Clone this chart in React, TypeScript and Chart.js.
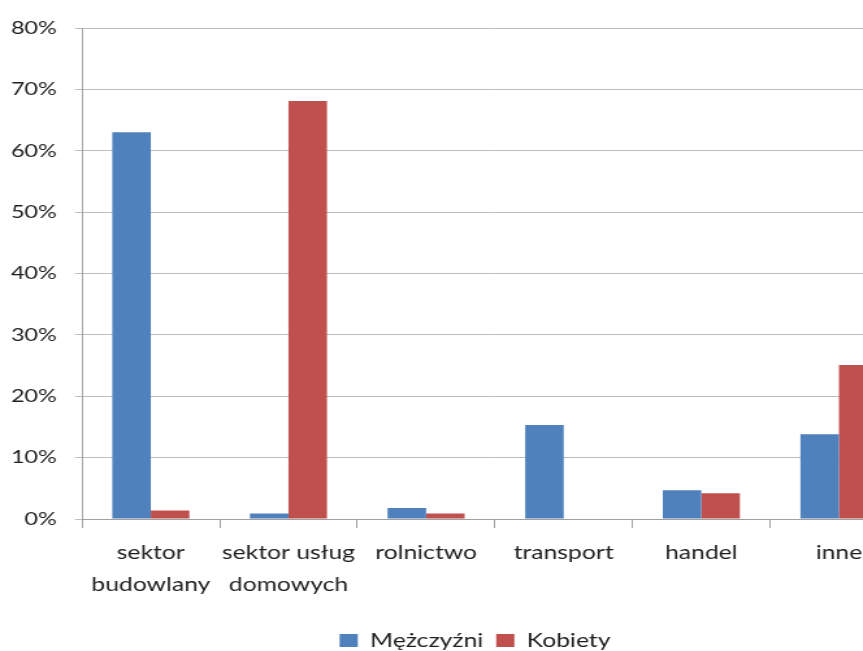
import React, { useEffect, useRef } from 'react';
import { Chart, registerables } from 'chart.js';

Chart.register(...registerables);

const categories: (string | string[])[] = [
  ['sektor', 'budowlany'],
  ['sektor usług', 'domowych'],
  'rolnictwo',
  'transport',
  'handel',
  'inne',
];
const seriesNames = ['Mężczyźni', 'Kobiety'];
const menValues = [63.0, 0.9, 1.8, 15.3, 4.7, 13.8];
const womenValues = [1.4, 68.1, 0.9, 0, 4.2, 25.1];
const yMin = 0;
const yMax = 80;
const yStep = 10;

const STRETCH = 1.3;
const CW = 731;
const CH = 660;

export default function App() {
  const ref = useRef<HTMLCanvasElement>(null);

  useEffect(() => {
    if (!ref.current) return;
    const textColor = '#1e1e1e';
    const chart = new Chart(ref.current, {
      type: 'bar',
      data: {
        labels: categories,
        datasets: [
          {
            label: seriesNames[0],
            data: menValues,
            backgroundColor: '#4F81BD',
            categoryPercentage: 0.56,
            barPercentage: 1,
          },
          {
            label: seriesNames[1],
            data: womenValues,
            backgroundColor: '#C0504D',
            categoryPercentage: 0.56,
            barPercentage: 1,
          },
        ],
      },
      options: {
        responsive: false,
        animation: false,
        devicePixelRatio: 1,
        layout: { padding: { left: 0, right: 0, top: 28, bottom: 0 } },
        plugins: {
          tooltip: { enabled: false },
          legend: {
            position: 'bottom',
            labels: {
              boxWidth: 14,
              boxHeight: 13,
              padding: 10,
              color: textColor,
              font: { family: 'Lato', size: 19 },
            },
          },
        },
        scales: {
          x: {
            grid: {
              offset: true,
              drawOnChartArea: false,
              drawTicks: true,
              tickLength: 9,
              color: '#a0a0a0',
            },
            border: { color: '#a0a0a0' },
            ticks: {
              autoSkip: false,
              maxRotation: 0,
              padding: 9,
              color: textColor,
              font: { family: 'Lato', size: 19, lineHeight: 1.684 },
            },
            afterFit: (s: any) => {
              s.height = 102;
            },
          },
          y: {
            min: yMin,
            max: yMax,
            grid: { color: '#bdbdbd', tickLength: 5.4 },
            border: { color: '#a0a0a0' },
            ticks: {
              stepSize: yStep,
              padding: 14,
              color: textColor,
              font: { family: 'Lato', size: 18 },
              callback: (v: any) => `${v}%`,
            },
            afterFit: (s: any) => {
              s.width = 63.1;
            },
          },
          spacer: {
            type: 'linear',
            position: 'right',
            min: yMin,
            max: yMax,
            grid: { display: false, drawTicks: false },
            border: { display: false },
            ticks: { display: false },
            afterFit: (s: any) => {
              s.width = 32.5;
            },
          },
        },
      },
    });
    return () => chart.destroy();
  }, []);

  return (
    <div
      style={{
        position: 'fixed',
        left: 0,
        top: 0,
        width: 863,
        height: 651,
        overflow: 'hidden',
        background: '#fff',
      }}
    >
      <canvas
        ref={ref}
        width={CW}
        height={CH}
        style={{ width: CW * STRETCH, height: CH, display: 'block' }}
      />
    </div>
  );
}
